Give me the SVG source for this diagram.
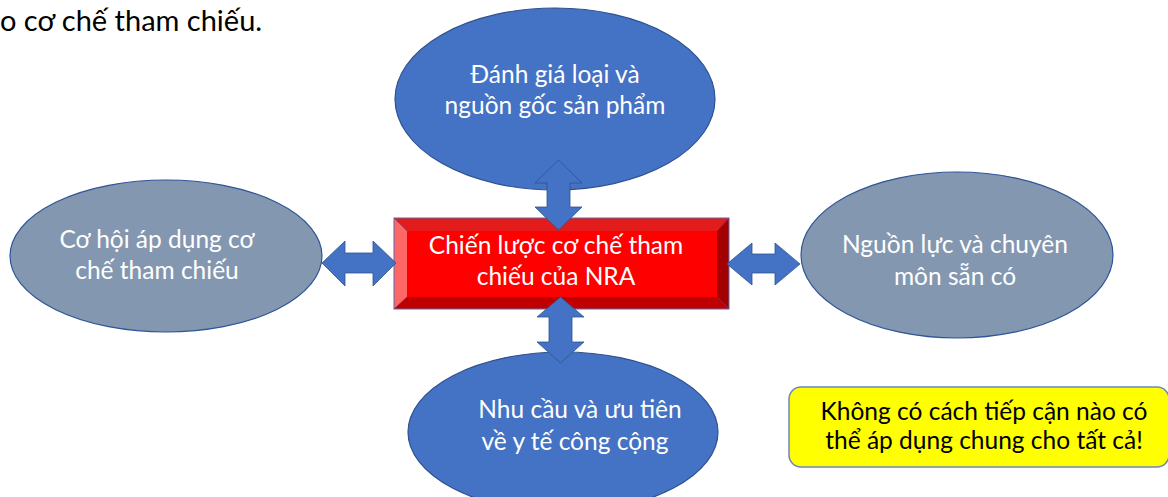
<svg xmlns="http://www.w3.org/2000/svg" width="1168" height="497" viewBox="0 0 1168 497">
<defs>
<style>
.t{font-family:Lato,"Open Sans","Liberation Sans",sans-serif;font-size:24.5px;text-anchor:middle}
.w{fill:#ffffff}
.k{fill:#000000}
.eb{fill:#4472C4;stroke:#2F528F;stroke-width:1.2}
.eg{fill:#8497B0;stroke:#2F5597;stroke-width:1.2}
.ar{fill:#4472C4;stroke:#2F528F;stroke-width:0.8}
</style>
</defs>
<rect width="1168" height="497" fill="#ffffff"/>
<text x="0" y="31" font-family="Lato,'Open Sans','Liberation Sans',sans-serif" font-size="29" fill="#000">o cơ chế tham chiếu.</text>

<g id="node-top">
<ellipse class="eb" cx="555" cy="99" rx="160" ry="91"/>
<text class="t w" x="555" y="83">Đánh giá loại và</text>
<text class="t w" x="555" y="114">nguồn gốc sản phẩm</text>
</g>
<g id="node-left">
<ellipse class="eg" cx="166" cy="256" rx="156" ry="76"/>
<text class="t w" x="157" y="248">Cơ hội áp dụng cơ</text>
<text class="t w" x="157" y="279">chế tham chiếu</text>
</g>
<g id="node-right">
<ellipse class="eg" cx="957" cy="255" rx="156" ry="83"/>
<text class="t w" x="955" y="253">Nguồn lực và chuyên</text>
<text class="t w" x="955" y="285">môn sẵn có</text>
</g>
<g id="node-bottom">
<ellipse class="eb" cx="563" cy="432" rx="155" ry="80"/>
<text class="t w" x="580" y="418">Nhu cầu và ưu tiên</text>
<text class="t w" x="575" y="450">về y tế công cộng</text>
</g>
<g id="node-center">
<rect x="394" y="218" width="335" height="91" fill="#FF0000"/>
<polygon points="394,218 729,218 717,231 407,231" fill="#E41B1B"/>
<polygon points="394,218 407,231 407,297 394,309" fill="#FF6666"/>
<polygon points="729,218 729,309 717,297 717,231" fill="#A50000"/>
<polygon points="394,309 407,297 717,297 729,309" fill="#C00000"/>
<rect x="394" y="218" width="335" height="91" fill="none" stroke="#5B6BA8" stroke-width="1"/>
<line x1="394" y1="218" x2="407" y2="231" stroke="#8a3a5a" stroke-width="0.6"/>
<line x1="729" y1="218" x2="717" y2="231" stroke="#8a3a5a" stroke-width="0.6"/>
<line x1="394" y1="309" x2="407" y2="297" stroke="#8a3a5a" stroke-width="0.6"/>
<line x1="729" y1="309" x2="717" y2="297" stroke="#8a3a5a" stroke-width="0.6"/>
<text class="t w" x="556" y="254">Chiến lược cơ chế tham</text>
<text class="t w" x="556" y="285">chiếu của NRA</text>
</g>
<g id="note">
<rect x="789" y="387" width="380" height="80" rx="12" fill="#FFFF00" stroke="#6F86B5" stroke-width="1.5"/>
<text class="t k" x="984" y="420">Không có cách tiếp cận nào có</text>
<text class="t k" x="984" y="449">thể áp dụng chung cho tất cả!</text>
</g>
<g id="connectors">
<polygon class="ar" points="322,263 345,241 345,253 373,253 373,241 396,263 373,286 373,273 345,273 345,286"/>
<polygon class="ar" points="727,264 752,243 752,254 775,254 775,243 800,264 775,285 775,273 752,273 752,285"/>
<polygon class="ar" points="558.5,160 582,183 570,183 570,207 582,207 558.5,230 535,207 547,207 547,183 535,183"/>
<polygon class="ar" points="560.5,297 584,317 572,317 572,342 584,342 560.5,363 537,342 549,342 549,317 537,317"/>
</g>
</svg>
